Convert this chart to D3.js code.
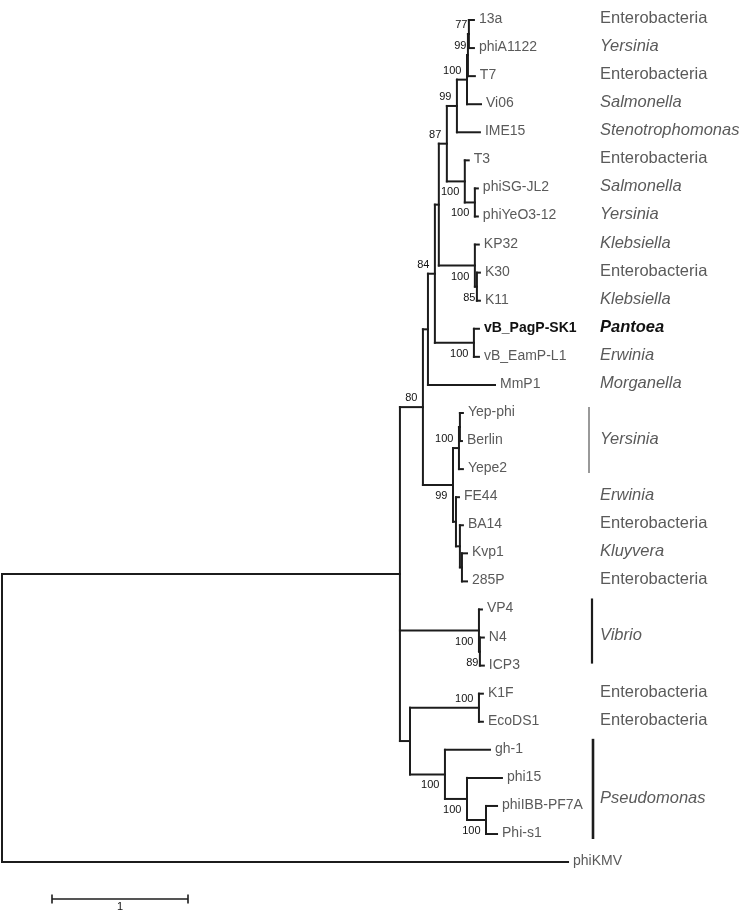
<!DOCTYPE html>
<html>
<head>
<meta charset="utf-8">
<script src="https://cdn.jsdelivr.net/npm/d3@7"></script>
<style>
  html, body { margin: 0; padding: 0; background: #fff; }
  svg { display: block; will-change: transform; }
  text { font-family: "Liberation Sans", Arial, Helvetica, sans-serif; }
</style>
</head>
<body>
<svg id="chart" width="741" height="914"></svg>
<script>
// ---------------- DATA ----------------
// tree nodes: [id, parentId, branchLength (subst./site), bootstrap]
const treeNodes = [
  ["root", "", 0, null],
  ["IG", "root", 2.926, null],
  ["n80", "IG", 0.169, 80],
  ["nC", "n80", 0.037, null],
  ["n84", "nC", 0.051, 84],
  ["nA", "n84", 0.029, null],
  ["n87", "nA", 0.059, 87],
  ["n99b", "n87", 0.074, 99],
  ["n100a", "n99b", 0.074, 100],
  ["n99a", "n100a", 0.007, 99],
  ["n77", "n99a", 0.007, 77],
  ["13a", "n77", 0.037, null],
  ["phiA1122", "n77", 0.037, null],
  ["T7", "n99a", 0.051, null],
  ["Vi06", "n100a", 0.103, null],
  ["IME15", "n99b", 0.169, null],
  ["n100b", "n87", 0.132, 100],
  ["T3", "n100b", 0.029, null],
  ["n100c", "n100b", 0.074, 100],
  ["phiSG-JL2", "n100c", 0.022, null],
  ["phiYeO3-12", "n100c", 0.022, null],
  ["n100d", "nA", 0.265, 100],
  ["KP32", "n100d", 0.029, null],
  ["n85", "n100d", 0.015, 85],
  ["K30", "n85", 0.022, null],
  ["K11", "n85", 0.022, null],
  ["n100e", "n84", 0.287, 100],
  ["vB_PagP-SK1", "n100e", 0.037, null],
  ["vB_EamP-L1", "n100e", 0.037, null],
  ["MmP1", "nC", 0.493, null],
  ["n99c", "n80", 0.221, 99],
  ["nY", "n99c", 0.044, 100],
  ["nYa", "nY", 0.007, null],
  ["Yep-phi", "nYa", 0.022, null],
  ["Berlin", "nYa", 0.015, null],
  ["Yepe2", "nY", 0.029, null],
  ["nF", "n99c", 0.022, null],
  ["FE44", "nF", 0.022, null],
  ["nB2", "nF", 0.029, null],
  ["BA14", "nB2", 0.022, null],
  ["nK", "nB2", 0.015, null],
  ["Kvp1", "nK", 0.037, null],
  ["285P", "nK", 0.037, null],
  ["nV", "IG", 0.581, 100],
  ["VP4", "nV", 0.022, null],
  ["n89", "nV", 0.007, 89],
  ["N4", "n89", 0.029, null],
  ["ICP3", "n89", 0.029, null],
  ["nD", "IG", 0.074, null],
  ["nE", "nD", 0.507, 100],
  ["K1F", "nE", 0.029, null],
  ["EcoDS1", "nE", 0.029, null],
  ["nP", "nD", 0.257, 100],
  ["gh-1", "nP", 0.331, null],
  ["nP2", "nP", 0.162, 100],
  ["phi15", "nP2", 0.257, null],
  ["nP3", "nP2", 0.140, 100],
  ["phiIBB-PF7A", "nP3", 0.081, null],
  ["Phi-s1", "nP3", 0.081, null],
  ["phiKMV", "root", 4.162, null]
];

// host annotation per single taxon
const hostTaxa  = ["13a","phiA1122","T7","Vi06","IME15","T3","phiSG-JL2","phiYeO3-12","KP32","K30","K11","vB_PagP-SK1","vB_EamP-L1","MmP1","FE44","BA14","Kvp1","285P","K1F","EcoDS1"];
const hostNames = ["Enterobacteria","Yersinia","Enterobacteria","Salmonella","Stenotrophomonas","Enterobacteria","Salmonella","Yersinia","Klebsiella","Enterobacteria","Klebsiella","Pantoea","Erwinia","Morganella","Erwinia","Enterobacteria","Kluyvera","Enterobacteria","Enterobacteria","Enterobacteria"];

// bracketed host groups
const groupNames = ["Yersinia", "Vibrio", "Pseudomonas"];
const groupFirst = ["Yep-phi", "VP4", "gh-1"];
const groupLast  = ["Yepe2", "ICP3", "Phi-s1"];

const highlightTaxon = "vB_PagP-SK1";
const scaleBarValue = 1;

// ---------------- STYLE ----------------
const W = 741, H = 914;
const lineColor = "#1c1c1c";
const tipColor = "#5a5a5a";
const hostColor = "#5a5a5a";
const groupStyle = [
  { x: 589, top: -6, bottom: 4, stroke: "#777", width: 1.5, labelDy: -3 },
  { x: 592, top: -11, bottom: -2, stroke: "#1c1c1c", width: 2.2, labelDy: -4 },
  { x: 593, top: -11, bottom: 5, stroke: "#1c1c1c", width: 2.6, labelDy: 5 }
];

// ---------------- BUILD ----------------
const svg = d3.select("#chart");
svg.append("rect").attr("width", W).attr("height", H).attr("fill", "#fff");

const root = d3.stratify()
  .id(d => d[0])
  .parentId(d => d[1] === "" ? null : d[1])(treeNodes);

root.eachBefore(n => {
  n.depthLen = n.parent ? n.parent.depthLen + n.data[2] : 0;
});

const leaves = root.leaves();
const maxLen = d3.max(leaves, d => d.depthLen);

const xScale = d3.scaleLinear().domain([0, maxLen]).range([2, 2 + maxLen * 136]);
const yScale = d3.scaleLinear().domain([0, leaves.length - 1]).range([20, 862.1]);

leaves.forEach((l, i) => { l.y = yScale(i); });
root.eachAfter(n => {
  n.x = xScale(n.depthLen);
  if (n.children) {
    n.y = (n.children[0].y + n.children[n.children.length - 1].y) / 2;
  }
});

const g = svg.append("g");

g.selectAll("line.h")
  .data(root.descendants().filter(d => d.parent))
  .join("line")
  .attr("class", "h")
  .attr("x1", d => d.parent.x).attr("x2", d => d.x)
  .attr("y1", d => d.y).attr("y2", d => d.y)
  .attr("stroke", lineColor).attr("stroke-width", 2)
  .attr("stroke-linecap", "square");

g.selectAll("line.v")
  .data(root.descendants().filter(d => d.children))
  .join("line")
  .attr("class", "v")
  .attr("x1", d => d.x).attr("x2", d => d.x)
  .attr("y1", d => d.children[0].y)
  .attr("y2", d => d.children[d.children.length - 1].y)
  .attr("stroke", lineColor).attr("stroke-width", 2)
  .attr("stroke-linecap", "square");

g.selectAll("text.tip")
  .data(leaves)
  .join("text")
  .attr("class", "tip")
  .attr("x", d => d.x + 5)
  .attr("y", d => d.y + 3)
  .attr("font-size", 14)
  .attr("font-weight", d => d.id === highlightTaxon ? "bold" : "normal")
  .attr("fill", d => d.id === highlightTaxon ? "#111" : tipColor)
  .text(d => d.id);

const supported = root.descendants().filter(d => d.data[3] != null);
g.selectAll("text.bs")
  .data(supported)
  .join("text")
  .attr("class", "bs")
  .attr("text-anchor", "end")
  .attr("x", d => {
    const brPx = d.x - d.parent.x;
    return d.x - (brPx < 4 ? 1.5 : 5.5);
  })
  .attr("y", d => {
    const isFirst = d.parent.children[0] === d;
    return isFirst ? d.y - 6 : d.y + 14;
  })
  .attr("font-size", 11)
  .attr("fill", "#111")
  .text(d => d.data[3]);

const leafById = new Map(leaves.map(l => [l.id, l]));
const hostData = hostTaxa.map((t, i) => ({ taxon: t, host: hostNames[i], y: leafById.get(t).y }));
g.selectAll("text.host")
  .data(hostData)
  .join("text")
  .attr("class", "host")
  .attr("x", 600)
  .attr("y", d => d.y + 3)
  .attr("font-size", 16.5)
  .attr("font-style", d => d.host === "Enterobacteria" ? "normal" : "italic")
  .attr("font-weight", d => d.taxon === highlightTaxon ? "bold" : "normal")
  .attr("fill", d => d.taxon === highlightTaxon ? "#111" : hostColor)
  .text(d => d.host);

const groupData = groupNames.map((name, i) => {
  const a = leafById.get(groupFirst[i]).y, b = leafById.get(groupLast[i]).y;
  return { name, a, b, s: groupStyle[i] };
});
g.selectAll("line.grp")
  .data(groupData)
  .join("line")
  .attr("class", "grp")
  .attr("x1", d => d.s.x).attr("x2", d => d.s.x)
  .attr("y1", d => d.a + d.s.top).attr("y2", d => d.b + d.s.bottom)
  .attr("stroke", d => d.s.stroke).attr("stroke-width", d => d.s.width);
g.selectAll("text.grp")
  .data(groupData)
  .join("text")
  .attr("class", "grp")
  .attr("x", 600)
  .attr("y", d => (d.a + d.b) / 2 + d.s.labelDy + 6)
  .attr("font-size", 16.5)
  .attr("font-style", "italic")
  .attr("fill", hostColor)
  .text(d => d.name);

const sbX0 = 52, sbY = 899;
const sbLen = xScale(scaleBarValue) - xScale(0);
const sb = svg.append("g").attr("stroke", lineColor).attr("stroke-width", 1.6);
sb.append("line").attr("x1", sbX0).attr("x2", sbX0 + sbLen).attr("y1", sbY).attr("y2", sbY);
sb.append("line").attr("x1", sbX0).attr("x2", sbX0).attr("y1", sbY - 4.5).attr("y2", sbY + 4.5);
sb.append("line").attr("x1", sbX0 + sbLen).attr("x2", sbX0 + sbLen).attr("y1", sbY - 4.5).attr("y2", sbY + 4.5);
svg.append("text")
  .attr("x", sbX0 + sbLen / 2).attr("y", 910)
  .attr("text-anchor", "middle").attr("font-size", 11).attr("fill", "#111")
  .text(scaleBarValue);
</script>
</body>
</html>
